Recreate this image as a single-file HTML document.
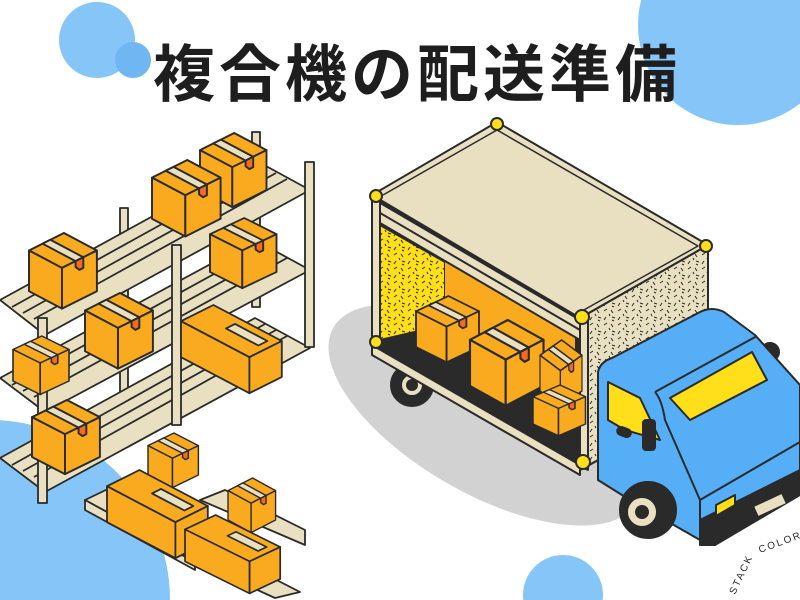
<!DOCTYPE html>
<html><head><meta charset="utf-8"><style>
html,body{margin:0;padding:0;background:#fff;width:800px;height:600px;overflow:hidden}
svg{display:block;overflow:hidden}
</style></head><body>
<svg width="800" height="600" viewBox="0 0 800 600" xmlns="http://www.w3.org/2000/svg">
<defs>
<pattern id="spk" width="14" height="14" patternUnits="userSpaceOnUse">
<path d="M2 3l3 -2M9 2l2 3M4 9l-2 3M10 9l3 1M7 6l1 2M12 13l-2 -1" stroke="#2a2a2a" stroke-width="1"/>
</pattern>
<g id="box" stroke="#2a2a2a" stroke-width="2" stroke-linejoin="round">
<path d="M0 18 L36 0 L70 18 L34 36Z" fill="#F9AA1E"/>
<path d="M0 18 L34 36 L34 78 L0 60Z" fill="#F9AA1E"/>
<path d="M34 36 L70 18 L70 60 L34 78Z" fill="#F9AA1E"/>
<path d="M14 11 L22 7 L56 25 L48 29Z" fill="#E8E0C0"/>
<path d="M48 29 L56 25 L56 36 L52 38 L48 35Z" fill="#F26B21"/>
</g>
<g id="lbox" stroke="#2a2a2a" stroke-width="2" stroke-linejoin="round">
<path d="M0 18 L36 0 L112 40 L76 58Z" fill="#F9AA1E"/>
<path d="M0 18 L76 58 L76 98 L0 58Z" fill="#F9AA1E"/>
<path d="M76 58 L112 40 L112 80 L76 98Z" fill="#F9AA1E"/>
<path d="M50 26 L60 21 L96 40 L86 45Z" fill="#E8E0C0"/>
</g>
</defs>

<circle cx="97" cy="40" r="38" fill="#86C5F8"/>
<circle cx="133" cy="60" r="18" fill="#6FB6F3"/>
<circle cx="738" cy="25" r="100" fill="#86C5F8"/>
<circle cx="-10" cy="600" r="180" fill="#86C5F8"/>
<circle cx="563" cy="595" r="40" fill="#86C5F8"/>

<text x="417" y="96" text-anchor="middle" font-family="'Liberation Sans','Noto Sans CJK JP',sans-serif" font-weight="bold" font-size="62" letter-spacing="4" fill="#1e1e1e">複合機の配送準備</text>

<ellipse cx="485" cy="415" rx="175" ry="78" transform="rotate(30 485 415)" fill="#D2D2D2"/>

<g stroke="#2a2a2a" stroke-width="2" stroke-linejoin="round">
<circle cx="412" cy="385" r="21" fill="#2a2a2a"/>
<circle cx="412" cy="385" r="11" fill="#E8E0C0"/>
<circle cx="412" cy="385" r="5" fill="#2a2a2a"/>
<path d="M580 318 L708 245 L708 400 L580 470Z" fill="#E8E0C0"/>
<path d="M580 318 L708 245 L708 400 L580 470Z" fill="url(#spk)"/>
<path d="M372 195 L580 318 L580 465 L372 345Z" fill="#2a2a2a"/>
<path d="M380 225 L445 262 L445 325 L380 340Z" fill="#FFDE1A"/>
<path d="M380 225 L445 262 L445 325 L380 340Z" fill="url(#spk)" stroke="none"/>
<path d="M445 262 L575 337 L575 400 L445 325Z" fill="#F9AA1E" stroke="none"/>
<path d="M375 200 L580 320 L580 340 L375 220Z" fill="#E8E0C0"/>
<path d="M375 210 L580 330" fill="none"/>
<path d="M372 195 L497 122 L708 245 L580 318Z" fill="#E8E0C0"/>
<path d="M383 195 L497 130 L698 246 L582 311" fill="none" stroke-width="1.5"/>
<path d="M372 195 L380 199 L380 348 L372 344Z" fill="#E8E0C0"/>
<path d="M580 318 L588 314 L588 470 L580 466Z" fill="#E8E0C0"/>
<path d="M372 345 L580 465 L580 475 L372 355Z" fill="#E8E0C0"/>
<circle cx="376" cy="196" r="6" fill="#FFDE1A"/>
<circle cx="497" cy="124" r="6" fill="#FFDE1A"/>
<circle cx="706" cy="246" r="6" fill="#FFDE1A"/>
<circle cx="582" cy="317" r="7" fill="#FFDE1A"/>
<circle cx="376" cy="342" r="6" fill="#FFDE1A"/>
<circle cx="583" cy="462" r="7" fill="#FFDE1A"/>
</g>
<use href="#box" transform="translate(416 296) scale(0.9 0.85)"/>
<use href="#box" transform="translate(470 320) scale(1.05 1.1)"/>
<use href="#box" transform="translate(540 340) scale(0.6 0.85)"/>
<use href="#box" transform="translate(533 385) scale(0.75 0.65)"/>

<g stroke="#2a2a2a" stroke-width="2" stroke-linejoin="round">
<circle cx="770" cy="352" r="9" fill="#2a2a2a"/>
<path d="M598 372 Q600 362 612 358 L700 312 Q712 306 724 312 L755 335 L800 385 L800 470 L715 545 L700 540 L630 500 L598 480Z" fill="#55AEF6"/>
<path d="M655 392 L757 336 M655 392 Q662 400 665 420 L700 500 L700 545 M700 500 L800 442" fill="none"/>
<path d="M608 382 L640 398 L660 440 L625 430 L608 420Z" fill="#FFDE1A"/>
<path d="M670 398 L752 352 L767 380 L690 420Z" fill="#FFDE1A"/>
<path d="M700 545 L715 545 L800 495 L800 470 L700 520Z" fill="#2a2a2a"/>
<path d="M716 505 L735 495 L735 505 L716 516Z" fill="#FFDE1A"/>
<rect x="643" y="420" width="12" height="30" rx="3" fill="#2a2a2a"/>
<rect x="617" y="428" width="14" height="8" rx="4" fill="#2a2a2a" transform="rotate(20 624 432)"/>
<circle cx="648" cy="510" r="28" fill="#2a2a2a"/>
<circle cx="642" cy="512" r="15" fill="#E8E0C0"/>
<circle cx="642" cy="512" r="6" fill="#2a2a2a"/>
<rect x="755" y="500" width="30" height="10" fill="#E8E0C0" transform="rotate(-25 770 505)" stroke="none"/>
</g>
<text x="0" y="0" transform="translate(735 595) rotate(-65)" font-family="'Liberation Sans',sans-serif" font-size="10" letter-spacing="2" fill="#2a2a2a">STACK</text>
<text x="0" y="0" transform="translate(760 553) rotate(-20)" font-family="'Liberation Sans',sans-serif" font-size="10" letter-spacing="2" fill="#2a2a2a">COLOR</text>

<g stroke="#2a2a2a" stroke-width="1.8" fill="#E8E0C0" stroke-linejoin="round">
<rect x="120" y="208" width="8" height="200"/>
<rect x="252" y="132" width="8" height="175"/>
<path d="M0 300 L255 160 L310 190 L45 335Z"/>
<path d="M0 378 L255 240 L310 270 L45 412Z"/>
<path d="M0 458 L255 318 L310 348 L45 492Z"/>
<g fill="none" stroke="#2a2a2a">
<path d="M12 307 L265 167 M23 313 L276 173 M34 319 L287 179 M12 385 L265 246 M23 391 L276 252 M34 397 L287 258 M12 465 L265 324 M23 471 L276 330 M34 477 L287 336"/>
</g>
<rect x="38" y="318" width="9" height="185"/>
<rect x="172" y="245" width="9" height="180"/>
<rect x="305" y="162" width="9" height="185"/>
</g>
<use href="#box" transform="translate(200 133) scale(0.95)"/>
<use href="#box" transform="translate(152 160) scale(0.98)"/>
<use href="#box" transform="translate(210 218) scale(0.95 0.9)"/>
<use href="#box" transform="translate(29 233) scale(0.97)"/>
<use href="#box" transform="translate(85 293) scale(0.97)"/>
<use href="#lbox" transform="translate(181 305) scale(0.9)"/>
<use href="#box" transform="translate(13 336) scale(0.8 0.75)"/>
<use href="#box" transform="translate(32 400) scale(0.97 0.95)"/>

<g stroke="#2a2a2a" stroke-width="1.8" fill="#E8E0C0" stroke-linejoin="round">
<path d="M85 500 L110 488 L220 548 L195 560Z"/>
<path d="M85 500 L195 560 L195 570 L85 510Z"/>
<path d="M160 545 L185 533 L300 592 L275 598 Z"/>
<path d="M200 500 L225 490 L305 530 L305 545Z"/>
</g>
<use href="#box" transform="translate(148 433) scale(0.72 0.7)"/>
<use href="#lbox" transform="translate(107 470) scale(0.9)"/>
<use href="#box" transform="translate(228 478) scale(0.68 0.7)"/>
<use href="#lbox" transform="translate(185 515) scale(0.85 0.8)"/>
</svg>
</body></html>
